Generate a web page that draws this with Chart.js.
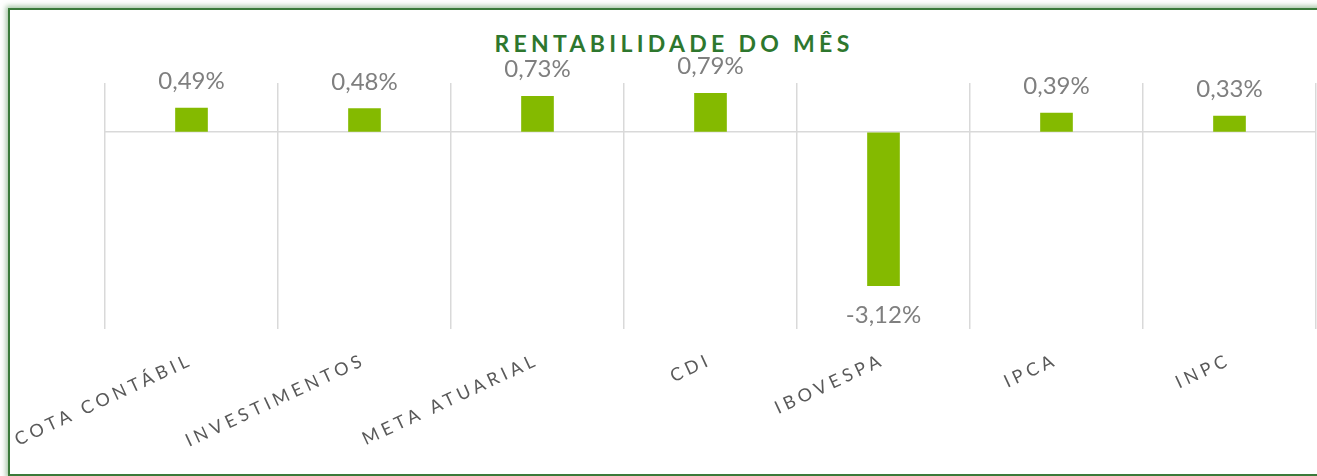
<!DOCTYPE html>
<html>
<head>
<meta charset="utf-8">
<script src="https://cdn.jsdelivr.net/npm/chart.js@4/dist/chart.umd.min.js"></script>
<style>
  html, body { margin: 0; padding: 0; background: #fff; overflow: hidden; }
  #frame {
    position: absolute; left: 8px; top: 8px; width: 1340px; height: 464px;
    border: 2px solid #3a7a3a;
    box-shadow: 0 0 5px 2px rgba(90, 150, 90, 0.55);
  }
  #title {
    position: absolute; left: 0; top: 29px; width: 1348px; text-align: center;
    font: bold 23px Lato, sans-serif; line-height: 28px; letter-spacing: 4.3px;
    color: #2e772e;
  }
  #chart { position: absolute; left: 0; top: 0; }
</style>
</head>
<body>
<div id="frame"></div>
<div id="title">RENTABILIDADE DO MÊS</div>
<canvas id="chart" width="1317" height="476"></canvas>
<script>
// categories and monthly returns (%)
const categories = ['COTA CONTÁBIL', 'INVESTIMENTOS', 'META ATUARIAL', 'CDI', 'IBOVESPA', 'IPCA', 'INPC'];
const returns = [0.49, 0.48, 0.73, 0.79, -3.12, 0.39, 0.33];
const yMin = -4;
const yMax = 1;

const fmt = v => v.toFixed(2).replace('.', ',') + '%';

// spaced-out axis labels, plain value labels
const spacing = {
  id: 'spacing',
  beforeLayout(chart) { chart.ctx.letterSpacing = '4.2px'; },
  beforeDraw(chart) { chart.ctx.letterSpacing = '4.2px'; }
};

const valueLabels = {
  id: 'valueLabels',
  afterDatasetsDraw(chart) {
    const ctx = chart.ctx;
    ctx.save();
    ctx.letterSpacing = '0px';
    ctx.font = '24px Lato, sans-serif';
    ctx.fillStyle = '#7f7f7f';
    ctx.textAlign = 'center';
    ctx.textBaseline = 'alphabetic';
    chart.getDatasetMeta(0).data.forEach((bar, i) => {
      const v = returns[i];
      const y = v >= 0 ? bar.y - 19 : bar.y + 37;
      ctx.fillText(fmt(v), bar.x, y);
    });
    ctx.restore();
  }
};

new Chart(document.getElementById('chart'), {
  type: 'bar',
  data: {
    labels: categories,
    datasets: [{
      data: returns,
      backgroundColor: '#84ba00',
      barThickness: 32
    }]
  },
  options: {
    responsive: false,
    animation: false,
    layout: { padding: { left: 105, right: 1, top: 83, bottom: 0 } },
    plugins: { legend: { display: false }, tooltip: { enabled: false } },
    scales: {
      x: {
        grid: { color: '#d9d9d9', lineWidth: 1.5, drawTicks: false },
        border: { display: false },
        ticks: {
          minRotation: 25, maxRotation: 25, padding: 20,
          color: '#595959', font: { family: 'Lato', size: 18 }
        },
        afterFit(scale) {
          scale.height = 147;
          scale.paddingLeft = 0;
          scale.paddingRight = 0;
        }
      },
      y: {
        min: yMin, max: yMax,
        ticks: { display: false, stepSize: 1 },
        grid: {
          drawTicks: false, lineWidth: 1.5,
          color: c => c.tick.value === 0 ? '#d9d9d9' : 'rgba(0,0,0,0)'
        },
        border: { display: false },
        afterFit(scale) { scale.width = 0; }
      }
    }
  },
  plugins: [spacing, valueLabels]
});
</script>
</body>
</html>
